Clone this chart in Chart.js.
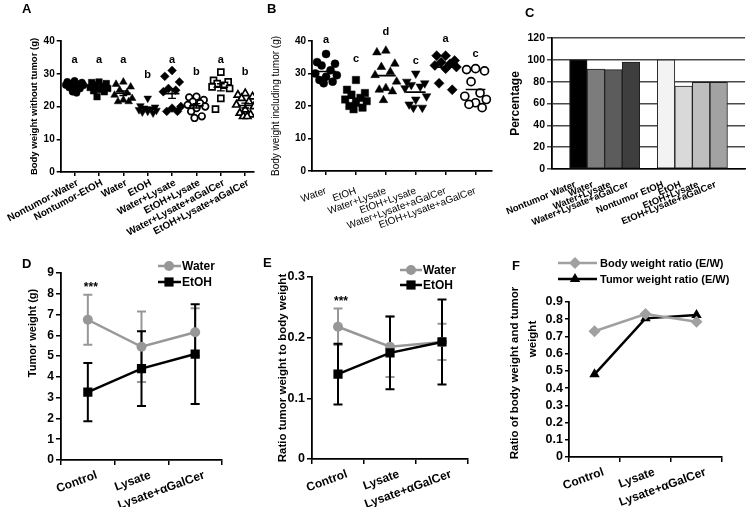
<!DOCTYPE html>
<html><head><meta charset="utf-8">
<script src="https://cdn.jsdelivr.net/npm/chart.js@4"></script>
<style>
body{margin:0;background:#fff;}
#wrap{position:relative;width:750px;height:507px;overflow:hidden;background:#fff;}
canvas{position:absolute;}
.pl{position:absolute;font:bold 13px "Liberation Sans",Arial,sans-serif;color:#000;line-height:13px;}
</style></head><body><div id="wrap">
<canvas id="cA" width="260" height="250" style="left:0;top:0"></canvas>
<canvas id="cB" width="260" height="250" style="left:250px;top:0"></canvas>
<canvas id="cC" width="250" height="250" style="left:500px;top:0"></canvas>
<canvas id="cD" width="250" height="257" style="left:0;top:250px"></canvas>
<canvas id="cE" width="250" height="257" style="left:250px;top:250px"></canvas>
<canvas id="cF" width="250" height="257" style="left:500px;top:250px"></canvas>
<div class="pl" style="left:22px;top:2px">A</div>
<div class="pl" style="left:267px;top:2px">B</div>
<div class="pl" style="left:525px;top:6px">C</div>
<div class="pl" style="left:22px;top:257px">D</div>
<div class="pl" style="left:263px;top:256px">E</div>
<div class="pl" style="left:512px;top:259px">F</div>
</div>
<script>
// ---------------- DATA ----------------
// Panel A: body weight without tumor (g)
const A_CATS = ['Nontumor-Water','Nontumor-EtOH','Water','EtOH','Water+Lysate','EtOH+Lysate','Water+Lysate+aGalCer','EtOH+Lysate+aGalCer'];
const A_NT_WATER = [27.8, 27.5, 27.3, 27.0, 26.8, 26.6, 26.5, 26.2, 25.8, 25.5, 24.5, 24.2];
const A_NT_ETOH = [27.5, 27.3, 27.0, 26.6, 26.2, 25.8, 25.5, 25.2, 24.8, 24.5, 23.0];
const A_WATER = [27.5, 26.8, 26.0, 25.0, 24.2, 23.5, 22.5, 22.0, 21.5, 21.5];
const A_ETOH = [22.5, 20.2, 19.8, 19.5, 19.2, 19.0, 18.8, 18.5, 18.3, 18.0];
const A_WATER_LYS = [31.0, 29.2, 27.5, 25.5, 25.0, 24.5, 20.0, 19.5, 18.5, 18.5];
const A_ETOH_LYS = [23.0, 22.8, 22.0, 21.5, 21.0, 20.5, 20.0, 19.5, 18.5, 17.0, 16.5];
const A_WATER_LYS_GAL = [30.5, 28.0, 27.5, 27.0, 26.5, 26.0, 25.5, 22.5, 19.2];
const A_ETOH_LYS_GAL = [24.0, 23.5, 23.0, 22.5, 21.5, 20.5, 20.0, 19.0, 18.0, 17.5, 17.0, 17.0];
const A_LETTERS = ['a','a','a','b','a','b','a','b'];
const A_LETTER_Y = [34.2, 34.2, 34.2, 29.6, 34.2, 30.6, 34.2, 30.6];
const A_Y_TICKS = [0, 10, 20, 30, 40];

// Panel B: body weight including tumor (g)
const B_CATS = ['Water','EtOH','Water+Lysate','EtOH+Lysate','Water+Lysate+aGalCer','EtOH+Lysate+aGalCer'];
const B_WATER = [36.0, 33.5, 33.0, 32.5, 31.0, 30.0, 29.5, 29.0, 28.0, 27.5, 27.0];
const B_ETOH = [28.0, 25.0, 24.0, 23.5, 22.5, 22.0, 21.5, 21.0, 20.0, 19.5, 19.0];
const B_WATER_LYS = [37.0, 36.5, 33.0, 32.0, 30.5, 29.5, 27.5, 25.5, 25.0, 24.5, 21.8];
const B_ETOH_LYS = [30.0, 27.5, 27.0, 26.5, 26.0, 25.5, 23.0, 22.0, 20.5, 19.5, 19.5];
const B_WATER_LYS_GAL = [35.5, 35.5, 34.0, 33.5, 33.0, 32.5, 32.0, 31.5, 27.0, 25.0];
const B_ETOH_LYS_GAL = [31.5, 31.2, 30.8, 27.5, 24.0, 23.0, 22.0, 21.0, 20.5, 19.5];
const B_LETTERS = ['a','c','d','c','a','c'];
const B_LETTER_Y = [40.2, 34.6, 42.7, 33.9, 40.7, 36.1];
const B_Y_TICKS = [0, 10, 20, 30, 40];

// Panel C: percentage
const C_CATS = ['Nontumor Water','Water','Water+Lysate','Water+Lysate+aGalCer','Nontumor EtOH','EtOH','EtOH+Lysate','EtOH+Lysate+aGalCer'];
const C_VALUES = [100, 91.5, 91, 98, 100, 76, 79.5, 79.5];
const C_Y_TICKS = [0, 20, 40, 60, 80, 100, 120];

// Panels D, E, F
const TX_CATS = ['Control','Lysate','Lysate+\u03b1GalCer'];
const D_WATER = [6.75, 5.45, 6.15];
const D_WATER_ERR = [1.2, 1.7, 1.15];
const D_ETOH = [3.27, 4.4, 5.1];
const D_ETOH_ERR = [1.4, 1.8, 2.4];
const D_Y_TICKS = [0,1,2,3,4,5,6,7,8,9];
const E_WATER = [0.218, 0.185, 0.193];
const E_WATER_ERR = [0.03, 0.05, 0.03];
const E_ETOH = [0.14, 0.175, 0.193];
const E_ETOH_ERR = [0.05, 0.06, 0.07];
const E_Y_TICKS = [0, 0.1, 0.2, 0.3];
const F_BODY = [0.73, 0.83, 0.785];
const F_TUMOR = [0.48, 0.805, 0.825];
const F_Y_TICKS = [0,0.1,0.2,0.3,0.4,0.5,0.6,0.7,0.8,0.9];
const D_STARS = {text:'***', cat:0, y:8.3};
const E_STARS = {text:'***', cat:0, y:0.26};

// ---------------- SETUP ----------------
const FONT = '"Liberation Sans", Arial, Helvetica, sans-serif';
Chart.defaults.font.family = FONT;
Chart.defaults.color = '#000';
Chart.defaults.animation = false;
Chart.defaults.responsive = false;
Chart.defaults.devicePixelRatio = 1;
Chart.defaults.plugins.legend.display = false;
Chart.defaults.plugins.tooltip.enabled = false;

const GRAY = '#979797';
const JIT = [0, -0.3, 0.3, -0.15, 0.15, -0.36, 0.36, 0, -0.22, 0.22, -0.08, 0.08];

function fixArea(opts, cw, ch, L, T, R, B) {
  opts.layout = {padding: {left: 0, top: T, right: cw - R, bottom: 0}};
  opts.scales.x.afterFit = s => { s.height = ch - B; };
  opts.scales.y.afterFit = s => { s.width = L; };
}
const mean = a => a.reduce((s, v) => s + v, 0) / a.length;
const sem = a => { const m = mean(a); return Math.sqrt(a.reduce((s, v) => s + (v - m) * (v - m), 0) / (a.length - 1)) / Math.sqrt(a.length); };

function scatterSets(groups, styles) {
  return groups.map((vals, g) => {
    const sorted = vals.slice().sort((p, q) => q - p);
    const st = styles[g];
    return {
      type: 'scatter',
      data: sorted.map((v, k) => ({x: g + JIT[k % JIT.length], y: v})),
      pointStyle: st.ps, rotation: st.rot || 0, pointRadius: st.r,
      backgroundColor: st.fill ? '#000' : '#fff', borderColor: '#000',
      pointBorderWidth: st.fill ? 0.5 : 1.7
    };
  });
}
function meanSet(groups, half) {
  const d = [];
  groups.forEach((vals, g) => { const m = mean(vals); d.push({x: g - half, y: m}, {x: g + half, y: m}, {x: g, y: null}); });
  return {type: 'line', data: d, borderColor: '#000', borderWidth: 1.6, pointRadius: 0, spanGaps: false, order: -1};
}
function groupPlugin(groups, letters, letterY, font, showSem) {
  return {id: 'grp', afterDatasetsDraw(chart) {
    const {ctx, scales: {x, y}} = chart;
    ctx.save();
    if (showSem) {
      ctx.strokeStyle = '#000'; ctx.lineWidth = 1.4;
      groups.forEach((vals, g) => {
        const m = mean(vals), e = sem(vals);
        const px = x.getPixelForValue(g), y1 = y.getPixelForValue(m - e), y2 = y.getPixelForValue(m + e);
        const c = Math.abs(x.getPixelForValue(0.16) - x.getPixelForValue(0));
        ctx.beginPath(); ctx.moveTo(px, y1); ctx.lineTo(px, y2);
        ctx.moveTo(px - c, y1); ctx.lineTo(px + c, y1); ctx.moveTo(px - c, y2); ctx.lineTo(px + c, y2); ctx.stroke();
      });
    }
    ctx.fillStyle = '#000'; ctx.font = font; ctx.textAlign = 'center'; ctx.textBaseline = 'middle';
    letters.forEach((t, i) => ctx.fillText(t, x.getPixelForValue(i), y.getPixelForValue(letterY[i])));
    ctx.restore();
  }};
}
function axisY(ticks, title, tfont, tpad, tickFont, extra) {
  return Object.assign({
    min: ticks[0], max: ticks[ticks.length - 1],
    afterBuildTicks: s => { s.ticks = ticks.map(v => ({value: v})); },
    ticks: {font: tickFont, padding: 2, color: '#000', autoSkip: false},
    grid: {drawOnChartArea: false, tickLength: 4, color: '#000', lineWidth: 1.5},
    border: {color: '#000', width: 1.8},
    title: {display: true, text: title, font: tfont, padding: {top: tpad, bottom: 0}, color: '#000'}
  }, extra || {});
}
// vertical axis title drawn at a chosen position (used where the original title is not centred on its axis)
function vTitlePlugin(lines) {
  return {id: 'vtitle', afterDraw(chart) {
    const ctx = chart.ctx, a = chart.chartArea;
    lines.forEach(l => {
      ctx.save(); ctx.font = l.font; ctx.fillStyle = '#000'; ctx.textAlign = 'center'; ctx.textBaseline = 'middle';
      ctx.translate(l.x, a.top + l.dy); ctx.rotate(-Math.PI / 2); ctx.fillText(l.text, 0, 0); ctx.restore();
    });
  }};
}

// ---------------- PANEL A ----------------
(function () {
  const groups = [A_NT_WATER, A_NT_ETOH, A_WATER, A_ETOH, A_WATER_LYS, A_ETOH_LYS, A_WATER_LYS_GAL, A_ETOH_LYS_GAL];
  const styles = [{ps:'circle', r:3.6, fill:true}, {ps:'rect', r:4.6, fill:true}, {ps:'triangle', r:4.4, fill:true}, {ps:'triangle', rot:180, r:4.4, fill:true},
                  {ps:'rectRot', r:4.4, fill:true}, {ps:'circle', r:3.3, fill:false}, {ps:'rect', r:4.2, fill:false}, {ps:'triangle', r:4.3, fill:false}];
  const opts = {
    scales: {
      x: {type: 'linear', min: -0.57, max: 7.36,
          afterBuildTicks: s => { s.ticks = A_CATS.map((c, i) => ({value: i})); },
          ticks: {callback: v => A_CATS[v], autoSkip: false, minRotation: 28, maxRotation: 28, font: {size: 10, weight: 'bold'}, padding: 1, labelOffset: 3},
          grid: {drawOnChartArea: false, tickLength: 4, color: '#000', lineWidth: 1.5}, border: {color: '#000', width: 1.8}},
      y: axisY(A_Y_TICKS, 'Body weight without tumor (g)', {size: 9.5, weight: 'bold'}, 27, {size: 10, weight: 'bold'})
    }
  };
  fixArea(opts, 260, 250, 59.5, 41, 254, 172);
  new Chart(document.getElementById('cA'), {
    type: 'scatter',
    data: {datasets: scatterSets(groups, styles).concat([meanSet(groups, 0.3)])},
    options: opts,
    plugins: [groupPlugin(groups, A_LETTERS, A_LETTER_Y, 'bold 11px ' + FONT, true)]
  });
})();

// ---------------- PANEL B ----------------
(function () {
  const groups = [B_WATER, B_ETOH, B_WATER_LYS, B_ETOH_LYS, B_WATER_LYS_GAL, B_ETOH_LYS_GAL];
  const styles = [{ps:'circle', r:4, fill:true}, {ps:'rect', r:5.2, fill:true}, {ps:'triangle', r:5, fill:true}, {ps:'triangle', rot:180, r:5, fill:true},
                  {ps:'rectRot', r:5, fill:true}, {ps:'circle', r:4, fill:false}];
  const opts = {
    scales: {
      x: {type: 'linear', min: -0.47, max: 5.55,
          afterBuildTicks: s => { s.ticks = B_CATS.map((c, i) => ({value: i})); },
          ticks: {callback: v => B_CATS[v], autoSkip: false, minRotation: 20, maxRotation: 20, font: {size: 10}, padding: 10, labelOffset: 0},
          grid: {drawOnChartArea: false, tickLength: 4, color: '#000', lineWidth: 1.5}, border: {color: '#000', width: 1.8}},
      y: axisY(B_Y_TICKS, 'Body weight including tumor (g)', {size: 10}, 20, {size: 10, weight: 'bold'})
    }
  };
  fixArea(opts, 260, 250, 62, 41, 242, 171);
  new Chart(document.getElementById('cB'), {
    type: 'scatter',
    data: {datasets: scatterSets(groups, styles).concat([meanSet(groups, 0.33)])},
    options: opts,
    plugins: [groupPlugin(groups, B_LETTERS, B_LETTER_Y, 'bold 11px ' + FONT, false)]
  });
})();

// ---------------- PANEL C ----------------
(function () {
  const COLORS = ['#000000', '#7c7c7c', '#5c5c5c', '#3e3e3e', '#f3f3f3', '#d9d9d9', '#bebebe', '#a2a2a2'];
  // two groups of four bars with an empty slot before, between and after
  const labels = [''].concat(C_CATS.slice(0, 4), [''], C_CATS.slice(4), ['']);
  const values = [null].concat(C_VALUES.slice(0, 4), [null], C_VALUES.slice(4), [null]);
  const colors = ['#fff'].concat(COLORS.slice(0, 4), ['#fff'], COLORS.slice(4), ['#fff']);
  const opts = {
    scales: {
      x: {ticks: {autoSkip: false, minRotation: 22, maxRotation: 22, font: {size: 9.5, weight: 'bold'}, padding: 2, labelOffset: -3},
          grid: {display: false}, border: {color: '#000', width: 1.5}},
      y: axisY(C_Y_TICKS, 'Percentage', {size: 12, weight: 'bold'}, 8, {size: 10.5, weight: 'bold'},
               {grid: {drawOnChartArea: true, tickLength: 5, color: '#4a4a4a', lineWidth: 1.5}})
    }
  };
  fixArea(opts, 250, 250, 52, 38, 245, 169);
  new Chart(document.getElementById('cC'), {
    type: 'bar',
    data: {labels: labels, datasets: [{data: values, backgroundColor: colors, borderColor: '#1e1e1e', borderWidth: 1,
             borderSkipped: false, categoryPercentage: 1, barPercentage: 1}]},
    options: opts
  });
})();

// ---------------- D, E, F helpers ----------------
function errPlugin(stars, starFont) {
  return {id: 'err',
    beforeDatasetsDraw(chart) {
      const {ctx, scales: {y}} = chart;
      chart.data.datasets.forEach((ds, i) => {
        if (!ds.err) return;
        const meta = chart.getDatasetMeta(i);
        ctx.save(); ctx.strokeStyle = ds.borderColor; ctx.lineWidth = 2;
        meta.data.forEach((pt, j) => {
          const v = ds.data[j], e = ds.err[j];
          const y1 = y.getPixelForValue(v - e), y2 = y.getPixelForValue(v + e), x = pt.x;
          ctx.beginPath(); ctx.moveTo(x, y1); ctx.lineTo(x, y2);
          ctx.moveTo(x - 4.5, y1); ctx.lineTo(x + 4.5, y1); ctx.moveTo(x - 4.5, y2); ctx.lineTo(x + 4.5, y2);
          ctx.stroke();
        });
        ctx.restore();
      });
    },
    afterDatasetsDraw(chart) {
      if (!stars) return;
      const {ctx, scales: {x, y}} = chart;
      ctx.save(); ctx.font = starFont; ctx.fillStyle = '#000'; ctx.textAlign = 'center'; ctx.textBaseline = 'middle';
      ctx.fillText(stars.text, x.getPixelForValue(stars.cat) + 3, y.getPixelForValue(stars.y));
      ctx.restore();
    }
  };
}
function legendPlugin(items, font) {
  return {id: 'lg', afterDraw(chart) {
    const ctx = chart.ctx;
    items.forEach(it => {
      const ds = chart.data.datasets[it.ds];
      ctx.save();
      ctx.strokeStyle = ds.borderColor; ctx.lineWidth = ds.borderWidth;
      ctx.beginPath(); ctx.moveTo(it.x0, it.y); ctx.lineTo(it.x1, it.y); ctx.stroke();
      ctx.fillStyle = ds.backgroundColor; ctx.strokeStyle = ds.borderColor;
      Chart.helpers.drawPoint(ctx, {pointStyle: ds.pointStyle, radius: ds.pointRadius, rotation: 0, borderWidth: 0}, it.xm, it.y);
      ctx.fillStyle = '#000'; ctx.font = font; ctx.textAlign = 'left'; ctx.textBaseline = 'middle';
      ctx.fillText(ds.label, it.tx, it.y + 0.5);
      ctx.restore();
    });
  }};
}
function catX(rot, off) {
  return {offset: true,
    ticks: {autoSkip: false, minRotation: rot, maxRotation: rot, font: {size: 12, weight: 'bold'}, padding: 3, labelOffset: off},
    grid: {offset: true, drawOnChartArea: false, tickLength: 5, color: '#000', lineWidth: 1.5},
    border: {color: '#000', width: 1.8}};
}

// ---------------- PANEL D ----------------
(function () {
  const opts = {
    scales: {
      x: catX(20, 9),
      y: axisY(D_Y_TICKS, '', {size: 11, weight: 'bold'}, 26, {size: 12, weight: 'bold'},
               {grid: {drawOnChartArea: false, tickLength: 5, color: '#000', lineWidth: 1.5}})
    }
  };
  opts.scales.y.title = {display: false};
  fixArea(opts, 250, 257, 61, 23, 222, 210);
  new Chart(document.getElementById('cD'), {
    type: 'line',
    data: {labels: TX_CATS, datasets: [
      {label: 'Water', data: D_WATER, err: D_WATER_ERR, borderColor: GRAY, backgroundColor: GRAY, borderWidth: 2.5, pointStyle: 'circle', pointRadius: 5, pointBorderWidth: 0, order: 1},
      {label: 'EtOH', data: D_ETOH, err: D_ETOH_ERR, borderColor: '#000', backgroundColor: '#000', borderWidth: 2.5, pointStyle: 'rect', pointRadius: 6.5, pointBorderWidth: 0, order: 0}
    ]},
    options: opts,
    plugins: [errPlugin(D_STARS, 'bold 12px ' + FONT),
              vTitlePlugin([{text: 'Tumor weight (g)', font: 'bold 11px ' + FONT, x: 33, dy: 60}]),
              legendPlugin([{ds: 0, x0: 158, x1: 181, xm: 169, tx: 182, y: 16}, {ds: 1, x0: 158, x1: 181, xm: 169, tx: 182, y: 32}], 'bold 12px ' + FONT)]
  });
})();

// ---------------- PANEL E ----------------
(function () {
  const opts = {
    scales: {
      x: catX(20, 9),
      y: axisY(E_Y_TICKS, 'Ratio tumor weight to body weight', {size: 11.5, weight: 'bold'}, 26, {size: 12.5, weight: 'bold'},
               {grid: {drawOnChartArea: false, tickLength: 5, color: '#000', lineWidth: 1.5}})
    }
  };
  fixArea(opts, 250, 257, 62, 27, 218, 209);
  new Chart(document.getElementById('cE'), {
    type: 'line',
    data: {labels: TX_CATS, datasets: [
      {label: 'Water', data: E_WATER, err: E_WATER_ERR, borderColor: GRAY, backgroundColor: GRAY, borderWidth: 2.5, pointStyle: 'circle', pointRadius: 5, pointBorderWidth: 0, order: 1},
      {label: 'EtOH', data: E_ETOH, err: E_ETOH_ERR, borderColor: '#000', backgroundColor: '#000', borderWidth: 2.5, pointStyle: 'rect', pointRadius: 6.5, pointBorderWidth: 0, order: 0}
    ]},
    options: opts,
    plugins: [errPlugin(E_STARS, 'bold 12px ' + FONT),
              legendPlugin([{ds: 0, x0: 150, x1: 172, xm: 161, tx: 173, y: 20}, {ds: 1, x0: 150, x1: 172, xm: 161, tx: 173, y: 35}], 'bold 12px ' + FONT)]
  });
})();

// ---------------- PANEL F ----------------
(function () {
  const opts = {
    scales: {
      x: catX(20, 9),
      y: axisY(F_Y_TICKS, '', {size: 11.5, weight: 'bold'}, 6, {size: 12.5, weight: 'bold'},
               {grid: {drawOnChartArea: false, tickLength: 4, color: '#000', lineWidth: 1.5}})
    }
  };
  opts.scales.y.title = {display: false};
  fixArea(opts, 250, 257, 69, 52, 222, 207);
  new Chart(document.getElementById('cF'), {
    type: 'line',
    data: {labels: TX_CATS, datasets: [
      {label: 'Body weight ratio (E/W)', data: F_BODY, borderColor: '#a0a0a0', backgroundColor: '#a0a0a0', borderWidth: 2.5, pointStyle: 'rectRot', pointRadius: 6, pointBorderWidth: 0},
      {label: 'Tumor weight ratio (E/W)', data: F_TUMOR, borderColor: '#000', backgroundColor: '#000', borderWidth: 2.5, pointStyle: 'triangle', pointRadius: 6, pointBorderWidth: 0}
    ]},
    options: opts,
    plugins: [vTitlePlugin([{text: 'Ratio of body weight and tumor', font: 'bold 11.5px ' + FONT, x: 15, dy: 71},
                            {text: 'weight', font: 'bold 11.5px ' + FONT, x: 33, dy: 37}]),
              legendPlugin([{ds: 0, x0: 58, x1: 97, xm: 75, tx: 100, y: 13}, {ds: 1, x0: 58, x1: 97, xm: 75, tx: 100, y: 29}], 'bold 11px ' + FONT)]
  });
})();
</script>
</body></html>
